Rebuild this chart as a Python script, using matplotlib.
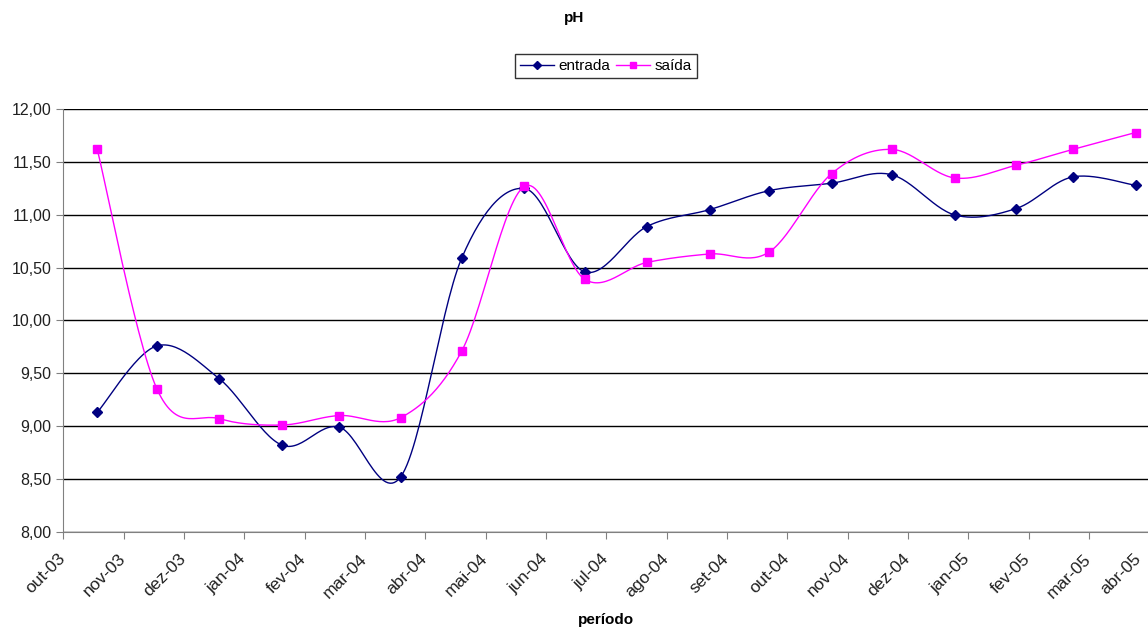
import numpy as np
import matplotlib
matplotlib.use("Agg")
import matplotlib.pyplot as plt
import matplotlib.transforms as mtransforms

plt.rcParams['font.family'] = ['Liberation Sans', 'DejaVu Sans']

# month labels on the x axis (one tick per month)
months = ["out-03", "nov-03", "dez-03", "jan-04", "fev-04", "mar-04", "abr-04",
          "mai-04", "jun-04", "jul-04", "ago-04", "set-04", "out-04", "nov-04",
          "dez-04", "jan-05", "fev-05", "mar-05", "abr-05"]

# sampling position, in months after out-03
periodo = [0.56, 1.55, 2.58, 3.62, 4.57, 5.59, 6.60, 7.64, 8.64,
           9.67, 10.71, 11.70, 12.73, 13.73, 14.77, 15.79, 16.73, 17.77]

entrada = [9.13, 9.76, 9.45, 8.82, 8.99, 8.52, 10.59, 11.25, 10.46,
           10.89, 11.05, 11.23, 11.30, 11.38, 11.00, 11.06, 11.36, 11.28]

saida = [11.62, 9.35, 9.07, 9.01, 9.10, 9.08, 9.71, 11.27, 10.39,
         10.55, 10.63, 10.65, 11.39, 11.62, 11.35, 11.47, 11.62, 11.78]


def smooth(x, y, n=30):
    # excel-like smoothed line: cubic bezier through every point
    p = np.column_stack([x, y])
    p = np.vstack([p[0], p, p[-1]])
    out = []
    t = np.linspace(0, 1, n)[:, None]
    for i in range(1, len(p) - 2):
        p0, p1, p2, p3 = p[i - 1], p[i], p[i + 1], p[i + 2]
        c1 = p1 + (p2 - p0) / 6
        c2 = p2 - (p3 - p1) / 6
        seg = ((1 - t) ** 3) * p1 + 3 * ((1 - t) ** 2) * t * c1 + 3 * (1 - t) * t ** 2 * c2 + t ** 3 * p2
        out.append(seg)
    out = np.vstack(out)
    return out[:, 0], out[:, 1]


fig = plt.figure(figsize=(11.48, 6.31), dpi=100)
ax = fig.add_axes([0.0553, 0.1574, 0.946, 0.6694])

xs, ys = smooth(periodo, entrada)
ax.plot(xs, ys, color="#000080", lw=1, zorder=3)
ax.plot(periodo, entrada, ls="none", marker="D", ms=5, color="#000080", zorder=4)
xs, ys = smooth(periodo, saida)
ax.plot(xs, ys, color="#FF00FF", lw=1, zorder=3)
ax.plot(periodo, saida, ls="none", marker="s", ms=5.5, color="#FF00FF", zorder=4)

# legend handles
h1, = ax.plot([], [], color="#000080", lw=1, marker="D", ms=4, label="entrada")
h2, = ax.plot([], [], color="#FF00FF", lw=1, marker="s", ms=4.5, label="saída")
leg = fig.legend(handles=[h1, h2], loc="center", bbox_to_anchor=(606 / 1148, 1 - 66 / 631),
                 ncol=2, frameon=True, fancybox=False, fontsize=11, handlelength=2.2,
                 handletextpad=0.3, columnspacing=0.4, borderpad=0.35, borderaxespad=0)
leg.get_frame().set_edgecolor("black")
leg.get_frame().set_linewidth(1)

ax.set_xlim(0, 18)
ax.set_ylim(8, 12)
ax.set_yticks(np.arange(8, 12.01, 0.5))
ax.set_yticklabels([f"{v:.2f}".replace(".", ",") for v in np.arange(8, 12.01, 0.5)])
ax.set_xticks(range(len(months)))
ax.set_xticklabels(months, rotation=45, ha="right", va="top", rotation_mode="anchor")
ax.yaxis.grid(True, color="black", lw=1)
ax.set_axisbelow(True)
for s in ["top", "right"]:
    ax.spines[s].set_visible(False)
ax.spines["left"].set_color("#808080")
ax.spines["bottom"].set_color("#808080")
ax.tick_params(axis="both", direction="out", length=5, color="#808080", labelsize=11.5, labelcolor="#202020")
ax.tick_params(axis="x", pad=9, labelsize=12.5)

# month labels end just left of their tick; the last one is pulled in to stay on the picture
labels = ax.get_xticklabels()
for i, lab in enumerate(labels):
    dx = -0.06 if i < len(labels) - 1 else -0.16
    lab.set_transform(lab.get_transform() + mtransforms.ScaledTranslation(dx, 0, fig.dpi_scale_trans))

fig.text(574 / 1148, 1 - 18 / 631, "pH", ha="center", va="center", fontsize=11, fontweight="bold")
fig.text(606 / 1148, 1 - 620 / 631, "período", ha="center", va="center", fontsize=11, fontweight="bold")

fig.savefig("out.png", dpi=100)
